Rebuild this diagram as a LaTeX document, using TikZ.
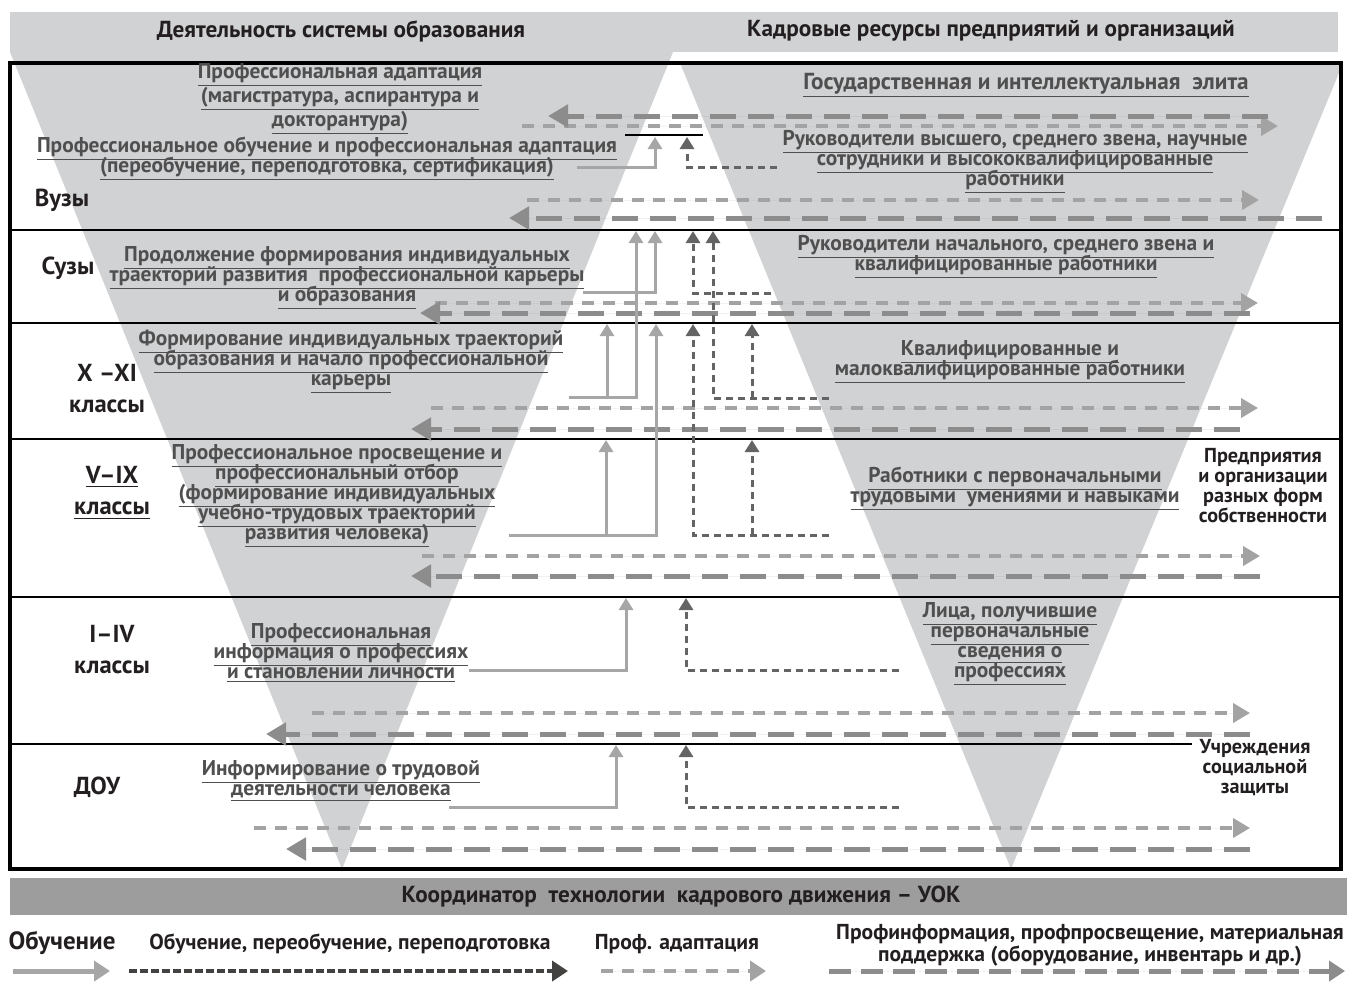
\documentclass[tikz,border=0pt]{standalone}
\usepackage{fontspec}
\setmainfont{PT Sans}
\usetikzlibrary{arrows.meta,positioning}
\definecolor{wedgegray}{HTML}{D1D2D4}
\definecolor{bandgray}{HTML}{9D9D9D}
\definecolor{learngray}{HTML}{A6A6A6}
\definecolor{retrgray}{HTML}{646464}
\definecolor{adaptgray}{HTML}{A3A3A3}
\definecolor{infogray}{HTML}{8C8C8C}
\definecolor{stagegray}{HTML}{4F4F4F}
\definecolor{inkblack}{HTML}{231F20}
\newcommand{\ulin}[1]{\smash{\underline{#1}}}

\begin{document}
\begin{tikzpicture}[x=0.5pt,y=-0.5pt]
    \tikzstyle{rowlbl}=[font=\bfseries\fontsize{12.3}{15.5}\selectfont, text=inkblack, align=center, inner sep=0pt]
    \tikzstyle{stage}=[font=\bfseries\fontsize{10.7}{10}\selectfont, text=stagegray, align=center, inner sep=0pt]
    \tikzstyle{sidetxt}=[font=\bfseries\fontsize{10.1}{10}\selectfont, text=inkblack, align=center, inner sep=0pt]
    \tikzstyle{hdr}=[font=\bfseries\fontsize{11.6}{12}\selectfont, text=inkblack, inner sep=0pt]
    \tikzstyle{legtxt}=[font=\bfseries\fontsize{10.8}{10}\selectfont, text=inkblack, align=center, inner sep=0pt]
    \tikzstyle{learn}=[draw=learngray, line width=1.5pt, -{Triangle[length=6pt,width=7pt]}]
    \tikzstyle{retr}=[draw=retrgray, line width=1.5pt, dash pattern=on 3.5pt off 2.5pt, -{Triangle[length=6pt,width=7pt]}]
    \tikzstyle{adapt}=[draw=adaptgray, fill=adaptgray, line width=2pt, dash pattern=on 6pt off 4.5pt, -{Triangle[length=8.5pt,width=9.5pt]}]
    \tikzstyle{infoline}=[draw=infogray, fill=infogray, line width=2.5pt, dash pattern=on 13pt off 6pt, -{Triangle[length=10pt,width=11pt]}]

    \useasboundingbox (0,0) rectangle (1347,981);

    % Gray background shapes
    \fill[wedgegray] (10,12) rectangle (1338,52);
    \fill[wedgegray] (10,52) -- (673,52) -- (342,869) -- cycle;
    \fill[wedgegray] (680,63) -- (1343,63) -- (1011,869) -- cycle;
    \node[hdr] (edu) at (341,31) {Деятельность системы образования};
    \node[hdr] (staff) at (991,31) {Кадровые ресурсы предприятий и организаций};

    % Frame and rows
    \draw[black, line width=1.2pt] (10,230) -- (1340,230);
    \draw[black, line width=1.2pt] (10,323) -- (1340,323);
    \draw[black, line width=1.2pt] (10,439) -- (1340,439);
    \draw[black, line width=1.2pt] (10,597) -- (1340,597);
    \draw[black, line width=1.2pt] (10,744) -- (1192,744);
    \draw[black, line width=1.8pt] (10,63) rectangle (1341,869);

    % Row labels
    \node[rowlbl] (vuz) at (62,200) {Вузы};
    \node[rowlbl] (suz) at (68,268) {Сузы};
    \node[rowlbl] (sen) at (107,389) {X –XI\\классы};
    \node[rowlbl] (mid) at (112,493) {\underline{V–IX}\\\underline{классы}};
    \node[rowlbl] (jun) at (112,650) {I–IV\\классы};
    \node[rowlbl] (dou) at (97,787) {ДОУ};

    % Horizontal arrows in every row
    \foreach \nm/\ay/\ax/\bx/\iy/\ix/\jx in {
        a/126/522/1278/116/1268/548,
        b/200/527/1259/218/1322/509,
        c/303/435/1258/313/1250/420,
        d/408/431/1258/429/1240/411,
        e/556/422/1260/576/1260/411,
        f/713/312/1250/734/1250/266,
        g/828/254/1250/849/1250/286}{
        \coordinate (ad\nm-s) at (\ax,\ay);
        \coordinate (ad\nm-e) at (\bx,\ay);
        \coordinate (in\nm-s) at (\ix,\iy);
        \coordinate (in\nm-e) at (\jx,\iy);
        \draw[adapt] (ad\nm-s) -- (ad\nm-e);
        \draw[infoline] (in\nm-s) -- (in\nm-e);
    }

    % Upward arrows
    \draw[black, line width=1.2pt] (625,135) coordinate (bar-l) -- (703,135) coordinate (bar-r);
    \foreach \nm/\sx/\sy/\tx/\ty in {
        1/577/167/655/137, 2/583/292/655/231, 3/569/397/636/231, 3b/607/397/607/324,
        4/509/535/656/324, 4b/606/535/606/440, 5/469/670/626/598, 6/449/807/616/745}{
        \coordinate (l\nm-s) at (\sx,\sy);
        \coordinate (l\nm-t) at (\tx,\ty);
        \draw[learn] (l\nm-s) -| (l\nm-t);
    }
    \foreach \nm/\sx/\sy/\tx/\ty in {
        1/777/167/687/137, 2/771/293/693/231, 3/829/398/713/231, 3b/752/398/752/324,
        4/829/535/693/324, 4b/752/535/752/440, 5/899/670/686/598, 6/899/807/686/745}{
        \coordinate (r\nm-s) at (\sx,\sy);
        \coordinate (r\nm-t) at (\tx,\ty);
        \draw[retr] (r\nm-s) -| (r\nm-t);
    }

    % Education stages
    \node[stage, font=\bfseries\fontsize{10.7}{12}\selectfont] (st1) at (340,102) {\ulin{Профессиональная адаптация}\\\ulin{(магистратура, аспирантура и}\\\ulin{докторантура)}};
    \node[stage] (st2) at (327,162) {\ulin{Профессиональное обучение и профессиональная адаптация}\\\ulin{(переобучение, переподготовка, сертификация)}};
    \node[stage] (st3) at (347,281) {\ulin{Продолжение формирования индивидуальных}\\\ulin{траекторий развития\ \ профессиональной карьеры}\\\ulin{и образования}};
    \node[stage] (st4) at (351,365) {\ulin{Формирование индивидуальных траекторий}\\\ulin{образования и начало профессиональной}\\\ulin{карьеры}};
    \node[stage] (st5) at (337,499) {\ulin{Профессиональное просвещение и}\\\ulin{профессиональный отбор}\\\ulin{(формирование индивидуальных}\\\ulin{учебно-трудовых траекторий}\\\ulin{развития человека)}};
    \node[stage] (st6) at (341,658) {\ulin{Профессиональная}\\\ulin{информация о профессиях}\\\ulin{и становлении личности}};
    \node[stage] (st7) at (341,785) {\ulin{Информирование о трудовой}\\\ulin{деятельности человека}};

    % Staff levels
    \node[stage, font=\bfseries\fontsize{11.6}{10}\selectfont] (lv1) at (1026,89) {\ulin{Государственная и интеллектуальная\ \ элита}};
    \node[stage] (lv2) at (1015,165) {\ulin{Руководители высшего, среднего звена, научные}\\\ulin{сотрудники и высококвалифицированные}\\\ulin{работники}};
    \node[stage] (lv3) at (1006,260) {\ulin{Руководители начального, среднего звена и}\\\ulin{квалифицированные работники}};
    \node[stage] (lv4) at (1010,365) {\ulin{Квалифицированные и}\\\ulin{малоквалифицированные работники}};
    \node[stage] (lv5) at (1015,492) {\ulin{Работники с первоначальными}\\\ulin{трудовыми\ \ умениями и навыками}};
    \node[stage] (lv6) at (1010,647) {\ulin{Лица, получившие}\\\ulin{первоначальные}\\\ulin{сведения о}\\\ulin{профессиях}};
    \node[sidetxt] (firms) at (1263,486) {Предприятия\\и организации\\разных форм\\собственности};
    \node[sidetxt] (social) at (1255,768) {Учреждения\\социальной\\защиты};

    % Coordinator band
    \fill[bandgray] (10,878) rectangle (1347,915);
    \node[hdr] (uok) at (681,897) {Координатор\ \ технологии\ \ кадрового движения – УОК};

    % Legend
    \node[hdr, font=\bfseries\fontsize{12.5}{14}\selectfont] (lgA) at (62,943) {Обучение};
    \node[legtxt] (lgB) at (350,944) {Обучение, переобучение, переподготовка};
    \node[legtxt] (lgC) at (677,944) {Проф. адаптация};
    \node[legtxt] (lgD) at (1090,945) {Профинформация, профпросвещение, материальная\\поддержка (оборудование, инвентарь и др.)};
    \coordinate (kA-s) at (13,971);  \coordinate (kA-e) at (110,971);
    \coordinate (kB-s) at (129,971); \coordinate (kB-e) at (568,971);
    \coordinate (kC-s) at (601,971); \coordinate (kC-e) at (766,971);
    \coordinate (kD-s) at (829,971); \coordinate (kD-e) at (1345,971);
    \draw[learn, line width=2.5pt, -{Triangle[length=8pt,width=10pt]}] (kA-s) -- (kA-e);
    \draw[retr, draw=inkblack!85, line width=2pt, dash pattern=on 4pt off 1.5pt, -{Triangle[length=8pt,width=10pt]}] (kB-s) -- (kB-e);
    \draw[adapt, line width=2.2pt, -{Triangle[length=8pt,width=10pt]}] (kC-s) -- (kC-e);
    \draw[infoline, line width=2.5pt, dash pattern=on 11pt off 5pt, -{Triangle[length=8pt,width=10pt]}] (kD-s) -- (kD-e);
\end{tikzpicture}
\end{document}
